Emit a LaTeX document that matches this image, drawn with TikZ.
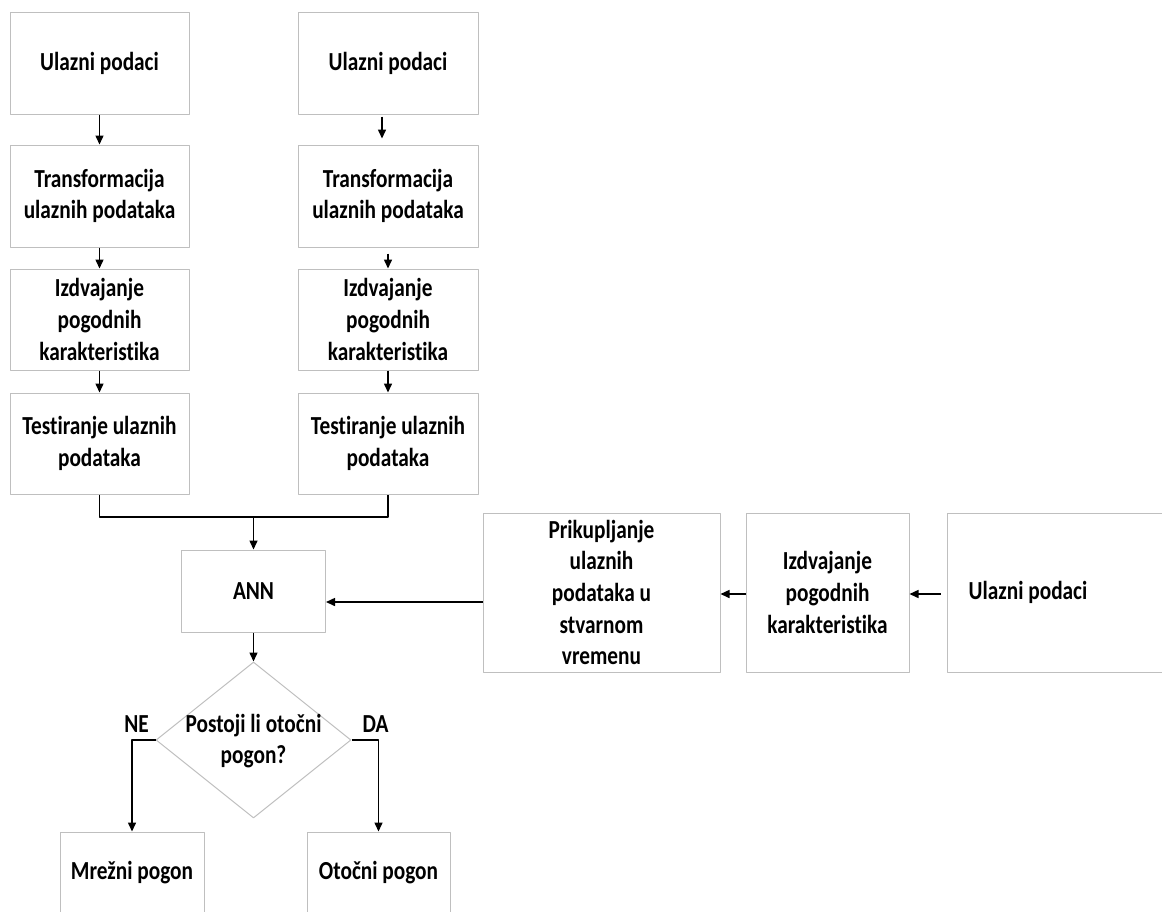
\documentclass[tikz,border=0pt]{standalone}
\usepackage{fontspec}
\setmainfont{Carlito}[FakeStretch=0.82, Ligatures=NoCommon]
\usetikzlibrary{shapes.geometric}
\usetikzlibrary{arrows.meta}
\definecolor{boxgray}{RGB}{191,191,191}

\begin{document}
\begin{tikzpicture}[x=0.5pt, y=-0.5pt, % one unit is one pixel of the drawing, y runs down
                    line join=round,
                    every node/.style = {inner sep=1pt, align=center,
                                         font=\fontsize{13}{15.85}\selectfont\bfseries},
                    box/.style = {draw=boxgray, line width=0.5pt, rectangle},
                    decision/.style = {draw=boxgray, line width=0.5pt, diamond,
                                       minimum width=97.5pt, minimum height=78pt, inner sep=0pt},
                    arr/.style = {-{Triangle[length=4.5pt,width=4pt]}, line width=0.75pt}
                   ]
  \useasboundingbox (0,0) rectangle (1162,911);
  \clip (0,0) rectangle (1162,911); % last boxes run off the page

  % left column
  \node[box, minimum width=89.5pt, minimum height=51pt] (l1) at (99.5,63) {Ulazni podaci};
  \node[box, minimum width=89.5pt, minimum height=51pt] (l2) at (99.5,196) {Transformacija\\ulaznih podataka};
  \node[box, minimum width=89.5pt, minimum height=50.5pt] (l3) at (99.5,319.5) {Izdvajanje\\pogodnih\\karakteristika};
  \node[box, minimum width=89.5pt, minimum height=50.5pt] (l4) at (99.5,443.5) {Testiranje ulaznih\\podataka};

  % right column
  \node[box, minimum width=90pt, minimum height=51pt] (r1) at (388,63) {Ulazni podaci};
  \node[box, minimum width=90pt, minimum height=51pt] (r2) at (388,196) {Transformacija\\ulaznih podataka};
  \node[box, minimum width=90pt, minimum height=50.5pt] (r3) at (388,319.5) {Izdvajanje\\pogodnih\\karakteristika};
  \node[box, minimum width=90pt, minimum height=50.5pt] (r4) at (388,443.5) {Testiranje ulaznih\\podataka};

  \draw[arr] (l1) -- (l2);
  \draw[arr] (l2) -- (l3);
  \draw[arr] (l3) -- (l4);
  \draw[arr, shorten <=1pt, shorten >=3pt] ([xshift=-3pt]r1.south) -- ([xshift=-3pt]r2.north);
  \draw[arr, shorten <=3pt] (r2) -- (r3);
  \draw[arr] (r3) -- (r4);

  % network and decision
  \coordinate (join) at (253.5,517);
  \node[box, minimum width=72pt, minimum height=41pt] (ann) at (253.5,591) {ANN};
  \node[decision] (dec) at (253.5,740) {};
  \node (q) at (253.5,741) {Postoji li otočni\\pogon?};
  \node[box, minimum width=72pt, minimum height=41pt] (mrez) at (132,873) {Mrežni pogon};
  \node[box, minimum width=71.5pt, minimum height=41pt] (otoc) at (378.5,873) {Otočni pogon};
  \node (ne) at (136.5,724) {NE};
  \node (da) at (375.5,724) {DA};

  \draw[line width=0.75pt] (l4.south) |- (join) -| (r4.south);
  \draw[arr] (join) -- (ann);
  \draw[arr] (ann) -- (dec);
  \draw[arr] (dec.west) -| (mrez.north);
  \draw[arr] (dec.east) -| (otoc.north);

  % real time branch
  \node[box, minimum width=118.5pt, minimum height=79.5pt] (prik) at (601.5,592.5) {Prikupljanje\\ulaznih\\podataka u\\stvarnom\\vremenu};
  \node[box, minimum width=81.5pt, minimum height=79.5pt] (izd) at (827.5,592.5) {Izdvajanje\\pogodnih\\karakteristika};
  \node[box, minimum width=126.5pt, minimum height=79.5pt] (rin) at (1073.5,592.5) {Ulazni podaci\hspace*{45.5pt}};

  \coordinate (annin) at ([yshift=-4.75pt]prik.west);
  \draw[arr] ([yshift=-0.75pt]izd.west) -- ([yshift=-0.75pt]prik.east);
  \draw[arr, shorten <=3pt] ([yshift=-0.75pt]rin.west) -- ([yshift=-0.75pt]izd.east);
  \draw[arr] (annin) -- (annin -| ann.east);
\end{tikzpicture}
\end{document}
